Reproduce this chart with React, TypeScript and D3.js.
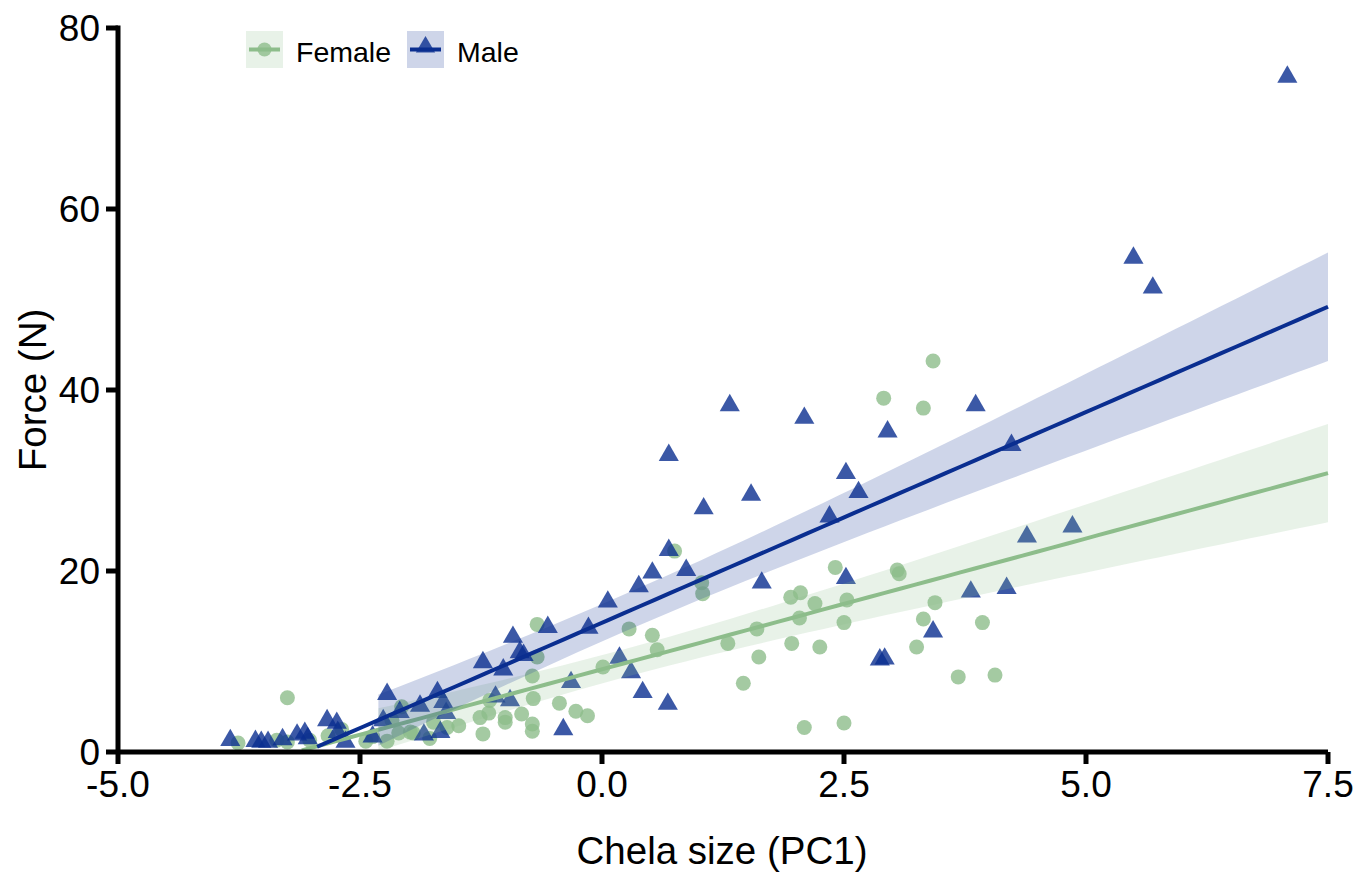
import React from "react";
import * as d3 from "d3";

const femaleX = [3.42, 2.91, 3.32, 0.75, 1.03, 1.04, 2.41, 3.05, 3.07, 0.52, 0.57, 1.30, 1.60, 1.62, 1.46, 1.95, 2.05, 2.20, 2.53, 2.04, 2.50, 1.96, 2.25, 3.44, 3.32, 3.93, 3.25, 3.68, 4.06, 2.09, 2.50,
  -0.67, 0.28, -0.67, -0.72, 0.01, -0.71, -0.44, -0.27, -0.15, -0.83, -0.72, -0.72, -1.00, -1.00, -1.17, -1.26, -1.23, -1.48, -1.60, -1.74, -1.95, -2.10, -1.78, -2.07, -1.16,
  -3.25, -3.76, -3.36, -3.25, -3.02, -2.83, -2.69, -2.44, -2.37, -2.22, -2.17, -1.98];
const femaleY = [43.2, 39.1, 38.0, 22.2, 18.7, 17.5, 20.4, 20.1, 19.7, 12.9, 11.3, 12.0, 13.6, 10.5, 7.6, 17.1, 17.6, 16.4, 16.8, 14.8, 14.3, 12.0, 11.6, 16.5, 14.7, 14.3, 11.6, 8.3, 8.5, 2.7, 3.2,
  14.1, 13.6, 10.5, 8.4, 9.4, 5.9, 5.4, 4.5, 4.0, 4.2, 3.1, 2.3, 3.8, 3.3, 4.3, 3.8, 2.0, 2.9, 2.7, 3.3, 2.1, 2.1, 1.5, 5.0, 5.7,
  6.0, 1.0, 1.3, 1.1, 1.3, 1.8, 2.5, 1.2, 1.7, 1.2, 3.5, 2.2];

const maleX = [-3.84, -3.58, -3.52, -3.45, -3.30, -3.15, -3.07, -3.04, -2.84, -2.74, -2.73, -2.65, -2.37, -2.26, -2.22, -2.09, -1.88, -1.84, -1.70, -1.67, -1.64, -1.61,
  -1.23, -1.10, -1.02, -0.95, -0.92, -0.85, -0.81, -0.56, -0.40, -0.32, -0.14, 0.06, 0.18, 0.30, 0.38, 0.42, 0.52, 0.69, 0.87, 0.68, 0.69, 1.05, 1.32, 1.54, 1.65,
  2.09, 2.35, 2.52, 2.52, 2.65, 2.87, 2.92, 2.95, 3.42, 3.81, 3.86, 4.18, 4.23, 4.39, 4.86, 5.49, 5.69, 7.08];
const maleY = [1.3, 1.2, 1.1, 1.1, 1.4, 1.9, 2.1, 1.5, 3.5, 3.2, 2.2, 1.1, 1.7, 3.5, 6.4, 4.4, 5.1, 1.9, 6.6, 2.2, 5.5, 4.3,
  9.9, 6.1, 9.1, 5.7, 12.7, 11.0, 10.7, 13.8, 2.5, 7.7, 13.7, 16.6, 10.4, 8.8, 18.3, 6.6, 19.8, 22.3, 20.1, 5.3, 32.8, 26.9, 38.3, 28.4, 18.7,
  36.9, 26.0, 30.8, 19.2, 28.7, 10.2, 10.3, 35.4, 13.3, 17.7, 38.3, 18.1, 33.9, 23.8, 24.9, 54.6, 51.3, 74.6];

const xTicks = [-5.0, -2.5, 0.0, 2.5, 5.0, 7.5];
const yTicks = [0, 20, 40, 60, 80];
const groups = ["Female", "Male"];
const colors = ["#8dbd8b", "#0a2e90"];

const W = 1357, H = 873;
const x = d3.scaleLinear().domain([-5, 7.5]).range([118, 1328]);
const y = d3.scaleLinear().domain([0, 80]).range([752, 28]);
const FONT = "'Liberation Sans', Arial, sans-serif";

function fit(xs: number[], ys: number[]) {
  const n = xs.length;
  const mx = d3.mean(xs)!, my = d3.mean(ys)!;
  let sxx = 0, sxy = 0;
  for (let i = 0; i < n; i++) { sxx += (xs[i] - mx) ** 2; sxy += (xs[i] - mx) * (ys[i] - my); }
  const b = sxy / sxx, a = my - b * mx;
  let sse = 0;
  for (let i = 0; i < n; i++) sse += (ys[i] - a - b * xs[i]) ** 2;
  const df = n - 2;
  const s = Math.sqrt(sse / df);
  const t = 1.96 + 2.4 / df;
  const grid = d3.range(80).map((k) => -5 + (k * 12.5) / 79);
  return grid.map((gx) => {
    const f = a + b * gx;
    const se = s * Math.sqrt(1 / n + (gx - mx) ** 2 / sxx);
    return { x: gx, f, lo: f - t * se, hi: f + t * se };
  });
}

export default function App() {
  const fits = [fit(femaleX, femaleY), fit(maleX, maleY)];
  const line = d3.line<any>().defined((d) => d.f >= 0 && d.f <= 80).x((d) => x(d.x)).y((d) => y(d.f));
  const area = d3.area<any>().defined((d) => d.lo >= 0 && d.hi <= 80).x((d) => x(d.x)).y0((d) => y(d.lo)).y1((d) => y(d.hi));
  const tri = d3.symbol().type(d3.symbolTriangle).size(175)();
  const triSmall = d3.symbol().type(d3.symbolTriangle).size(160)();

  return (
    <svg width={W} height={H} style={{ position: "absolute", left: 0, top: 0, background: "#fff" }} fontFamily={FONT}>
      {/* points */}
      <g>
        {femaleX.map((v, i) => (
          <circle key={"f" + i} cx={x(v)} cy={y(femaleY[i])} r={7.5} fill={colors[0]} fillOpacity={0.8} />
        ))}
        {maleX.map((v, i) => (
          <path key={"m" + i} d={tri!} transform={`translate(${x(v)},${y(maleY[i])})`} fill={colors[1]} fillOpacity={0.8} />
        ))}
      </g>
      {/* smooths */}
      {fits.map((fd, gi) => (
        <g key={gi}>
          <path d={area(fd)!} fill={colors[gi]} fillOpacity={0.2} />
          <path d={line(fd)!} fill="none" stroke={colors[gi]} strokeWidth={4} />
        </g>
      ))}
      {/* axes */}
      <line x1={x(-5)} x2={x(7.5)} y1={752} y2={752} stroke="#000" strokeWidth={5} />
      <line x1={118} x2={118} y1={y(80) - 2.5} y2={y(0)} stroke="#000" strokeWidth={5} />
      {xTicks.map((t) => (
        <g key={"xt" + t}>
          <line x1={x(t)} x2={x(t)} y1={752} y2={764} stroke="#000" strokeWidth={5} />
          <text x={x(t)} y={797} textAnchor="middle" fontSize={37} fill="#000">{t.toFixed(1)}</text>
        </g>
      ))}
      {yTicks.map((t) => (
        <g key={"yt" + t}>
          <line x1={106} x2={118} y1={y(t)} y2={y(t)} stroke="#000" strokeWidth={5} />
          <text x={100} y={y(t) + 13} textAnchor="end" fontSize={37} fill="#000">{t}</text>
        </g>
      ))}
      <text x={722} y={864} textAnchor="middle" fontSize={38.5} fill="#000">Chela size (PC1)</text>
      <text transform={`translate(46,390) rotate(-90)`} textAnchor="middle" fontSize={38.5} fill="#000">Force (N)</text>
      {/* legend */}
      {groups.map((g, gi) => {
        const bx = gi === 0 ? 246 : 407;
        return (
          <g key={g}>
            <rect x={bx} y={31} width={37} height={37} fill={colors[gi]} fillOpacity={0.2} />
            <line x1={bx + 3} x2={bx + 34} y1={49.5} y2={49.5} stroke={colors[gi]} strokeWidth={4} />
            {gi === 0 ? (
              <circle cx={bx + 18.5} cy={49.5} r={7} fill={colors[0]} fillOpacity={0.8} />
            ) : (
              <path d={triSmall!} transform={`translate(${bx + 18.5},${47})`} fill={colors[1]} fillOpacity={0.8} />
            )}
            <text x={bx + 50} y={62} fontSize={28.5} fill="#000">{g}</text>
          </g>
        );
      })}
    </svg>
  );
}
